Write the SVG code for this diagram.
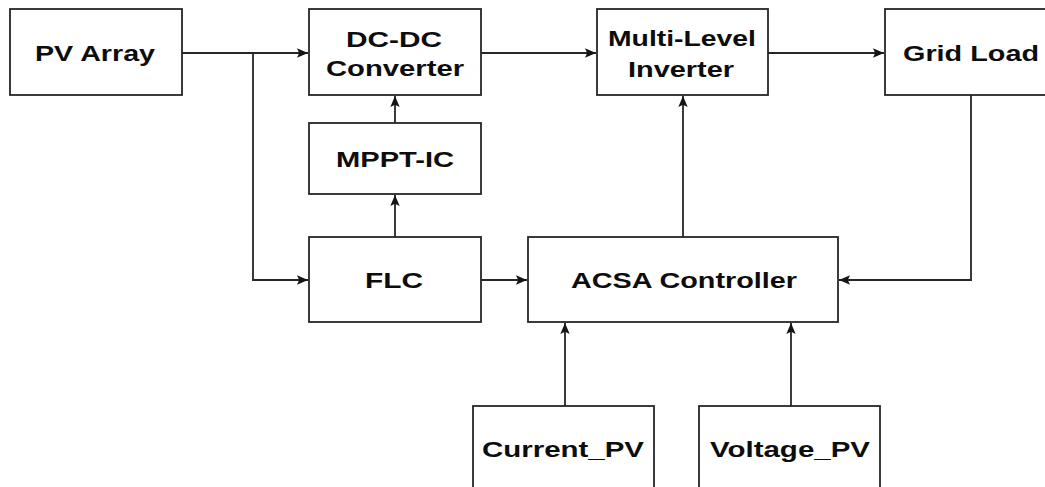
<svg xmlns="http://www.w3.org/2000/svg" width="1045" height="487" viewBox="0 0 1045 487">
<style>
.box{fill:#fff;stroke:#262626;stroke-width:1.8}
.lbl{font-family:"Liberation Sans",Arial,sans-serif;font-weight:bold;font-size:22px;fill:#0d0d0d;text-anchor:middle}
.conn{fill:none;stroke:#262626;stroke-width:1.8;marker-end:url(#arr)}
</style>
<defs>
<marker id="arr" markerUnits="userSpaceOnUse" markerWidth="12" markerHeight="11" refX="11" refY="5.5" orient="auto">
<path d="M0,0.8 L11,5.5 L0,10.2 L2.2,5.5 z" fill="#151515"/>
</marker>
</defs>
<rect width="1045" height="487" fill="#fff"/>
<g id="connectors">
<path class="conn" d="M182,53 H308"/>
<path class="conn" d="M253,53 V280 H308"/>
<path class="conn" d="M395,123 V96"/>
<path class="conn" d="M395,237 V195"/>
<path class="conn" d="M481,53 H596"/>
<path class="conn" d="M768,53 H884"/>
<path class="conn" d="M481,280 H527"/>
<path class="conn" d="M683,237 V96"/>
<path class="conn" d="M971,95 V280 H839"/>
<path class="conn" d="M565,406 V323"/>
<path class="conn" d="M791,406 V323"/>
</g>
<g id="pv-array"><rect class="box" x="10" y="9" width="172" height="86"/><text class="lbl" x="95" y="61" textLength="120" lengthAdjust="spacingAndGlyphs">PV Array</text></g>
<g id="dc-dc"><rect class="box" x="309" y="9" width="172" height="86"/><text class="lbl" x="394" y="47" textLength="96" lengthAdjust="spacingAndGlyphs">DC-DC</text><text class="lbl" x="395" y="76" textLength="138" lengthAdjust="spacingAndGlyphs">Converter</text></g>
<g id="mppt-ic"><rect class="box" x="309" y="123" width="172" height="71"/><text class="lbl" x="395" y="167" textLength="118" lengthAdjust="spacingAndGlyphs">MPPT-IC</text></g>
<g id="inverter"><rect class="box" x="597" y="9" width="171" height="86"/><text class="lbl" x="682" y="46" textLength="148" lengthAdjust="spacingAndGlyphs">Multi-Level</text><text class="lbl" x="681" y="77" textLength="106" lengthAdjust="spacingAndGlyphs">Inverter</text></g>
<g id="grid-load"><rect class="box" x="885" y="9" width="175" height="86"/><text class="lbl" x="971" y="61" textLength="136" lengthAdjust="spacingAndGlyphs">Grid Load</text></g>
<g id="flc"><rect class="box" x="309" y="237" width="172" height="85"/><text class="lbl" x="394" y="288" textLength="58" lengthAdjust="spacingAndGlyphs">FLC</text></g>
<g id="acsa"><rect class="box" x="528" y="237" width="310" height="85"/><text class="lbl" x="684" y="288" textLength="226" lengthAdjust="spacingAndGlyphs">ACSA Controller</text></g>
<g id="current-pv"><rect class="box" x="473" y="406" width="181" height="100"/><text class="lbl" x="563" y="457" textLength="162" lengthAdjust="spacingAndGlyphs">Current_PV</text></g>
<g id="voltage-pv"><rect class="box" x="699" y="406" width="181" height="100"/><text class="lbl" x="790" y="457" textLength="160" lengthAdjust="spacingAndGlyphs">Voltage_PV</text></g>
</svg>
